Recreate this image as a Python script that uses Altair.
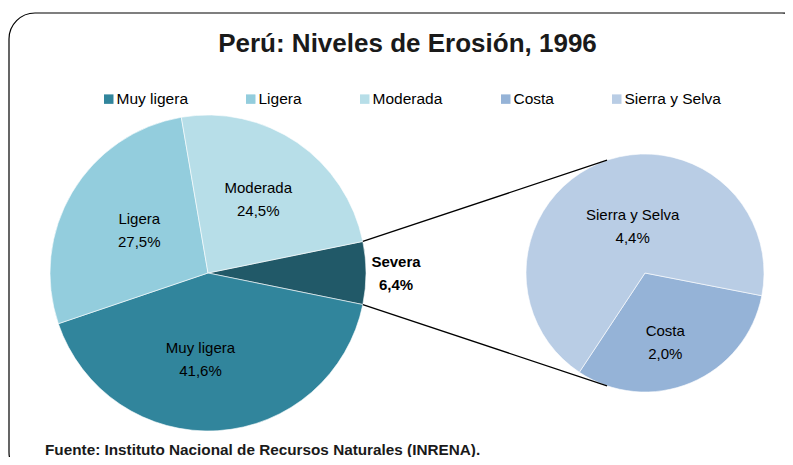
import math
import altair as alt
import pandas as pd

# ---------------- data ----------------
main_cats = ["Severa", "Muy ligera", "Ligera", "Moderada"]
main_vals = [6.4, 41.6, 27.5, 24.5]
sub_cats = ["Costa", "Sierra y Selva"]
sub_vals = [2.0, 4.4]
legend_cats = ["Muy ligera", "Ligera", "Moderada", "Costa", "Sierra y Selva"]
all_cats = legend_cats + ["Severa"]
cat_colors = ["#31859C", "#93CDDD", "#B7DEE8", "#95B3D7", "#B9CDE5", "#215968"]
title_text = "Perú: Niveles de Erosión, 1996"
source_text = "Fuente: Instituto Nacional de Recursos Naturales (INRENA)."

# ---------------- layout (style) ----------------
W, H = 777, 449
FONT = "'Liberation Sans Narrow', 'Liberation Sans', Arial, sans-serif"
C1X, C1Y, R1 = 200, 265, 158
C2X, C2Y, R2 = 637, 265, 119
SUB_START_DEG = 101.0
SUB_HIT_DEG = 18.6  # where connector lines meet the secondary pie
LINE_H = 23
# per-label placement: (radius, dx, dy, bold)
LABEL_POS = {
    "Moderada": (89, 0, 0, False),
    "Ligera": (80, 0, -2, False),
    "Muy ligera": (87, -13, 0, False),
    "Severa": (188, 0, 0, True),
    "Sierra y Selva": (50, 7, 0, False),
    "Costa": (73, -8, 2, False),
}


def fmt(v):
    return f"{v:.1f}".replace(".", ",") + "%"


total1 = sum(main_vals)
total2 = sum(sub_vals)
sev_share = main_vals[main_cats.index("Severa")] / total1
start1 = math.radians(90 - sev_share * 360 / 2)
start2 = math.radians(SUB_START_DEG)

df_main = pd.DataFrame({
    "cat": main_cats,
    "value": main_vals,
    "ord": list(range(len(main_cats))),
    "text": [f"{c}\n{fmt(v)}" for c, v in zip(main_cats, main_vals)],
})
df_sub = pd.DataFrame({
    "cat": sub_cats,
    "value": sub_vals,
    "ord": list(range(len(sub_cats))),
    "text": [f"{c}\n{fmt(v)}" for c, v in zip(sub_cats, sub_vals)],
})

color_scale = alt.Scale(domain=all_cats, range=cat_colors)
legend = alt.Legend(
    title=None, values=legend_cats, orient="none", legendX=93, legendY=83,
    direction="horizontal", symbolType="square", symbolSize=90,
    symbolStrokeWidth=0, labelFont=FONT, labelFontSize=15.5, labelColor="#000000",
    labelOffset=0, columnPadding=55,
)


def pie(df, total, start, cx, cy, r, with_legend):
    theta_scale = alt.Scale(domain=[0, total], range=[start, start + 2 * math.pi])
    return alt.Chart(df).mark_arc(stroke="#ffffff", strokeWidth=0.6).encode(
        theta=alt.Theta("value:Q", stack=True, scale=theta_scale),
        order=alt.Order("ord:Q"),
        color=alt.Color("cat:N", scale=color_scale,
                        legend=legend if with_legend else None),
        x=alt.value(cx), y=alt.value(cy), radius=alt.value(r),
    )


def label(df, total, start, cx, cy, cat):
    radius, dx, dy, bold = LABEL_POS[cat]
    theta_scale = alt.Scale(domain=[0, total], range=[start, start + 2 * math.pi])
    return alt.Chart(df).transform_window(
        cum="sum(value)", sort=[alt.SortField("ord")], frame=[None, 0]
    ).transform_calculate(
        mid="datum.cum - datum.value / 2"
    ).transform_filter(alt.datum.cat == cat).mark_text(
        font=FONT, fontSize=15, lineBreak="\n", align="center", baseline="middle",
        color="#000000", fontWeight="bold" if bold else "normal", lineHeight=LINE_H,
        dx=dx, dy=dy - LINE_H / 2,
    ).encode(
        theta=alt.Theta("mid:Q", stack=False, scale=theta_scale),
        radius=alt.value(radius),
        x=alt.value(cx), y=alt.value(cy),
        text="text:N",
    )


pie1 = pie(df_main, total1, start1, C1X, C1Y, R1, True)
pie2 = pie(df_sub, total2, start2, C2X, C2Y, R2, False)
labs = [label(df_main, total1, start1, C1X, C1Y, c) for c in main_cats]
labs += [label(df_sub, total2, start2, C2X, C2Y, c) for c in sub_cats]

# connector lines (computed from the Severa slice geometry)
a_up = start1
a_dn = start1 + sev_share * 2 * math.pi
b_up = math.radians(360 - SUB_HIT_DEG)
b_dn = math.radians(180 + SUB_HIT_DEG)
conn = pd.DataFrame({
    "x": [C1X + R1 * math.sin(a_up), C1X + R1 * math.sin(a_dn)],
    "y": [C1Y - R1 * math.cos(a_up), C1Y - R1 * math.cos(a_dn)],
    "x2": [C2X + R2 * math.sin(b_up), C2X + R2 * math.sin(b_dn)],
    "y2": [C2Y - R2 * math.cos(b_up), C2Y - R2 * math.cos(b_dn)],
})
lines = alt.Chart(conn).mark_rule(color="#000000", strokeWidth=1.3).encode(
    x=alt.X("x:Q", scale=None), y=alt.Y("y:Q", scale=None),
    x2="x2:Q", y2="y2:Q",
)

title = alt.Chart(pd.DataFrame({"t": [title_text]})).mark_text(
    font=FONT, fontSize=26, fontWeight="bold", align="center", baseline="alphabetic",
    color="#1a1a1a",
).encode(x=alt.value(399.5), y=alt.value(44), text="t:N")

source = alt.Chart(pd.DataFrame({"t": [source_text]})).mark_text(
    font=FONT, fontSize=15.3, fontWeight="bold", align="left", baseline="alphabetic",
    color="#1a1a1a",
).encode(x=alt.value(37), y=alt.value(447), text="t:N")

border = alt.Chart(pd.DataFrame({"a": [0]})).mark_rect(
    fillOpacity=0, fill="#ffffff", stroke="#000000", strokeWidth=1.2, cornerRadius=26,
).encode(x=alt.value(1), x2=alt.value(800), y=alt.value(5), y2=alt.value(470))

chart = alt.layer(
    border, pie1, pie2, lines, *labs, title, source
).resolve_scale(theta="independent").properties(
    width=W, height=H, padding=0, autosize=alt.AutoSizeParams(type="none"),
    background="#ffffff",
).configure_view(strokeWidth=0)

chart.save("out.html", embed_options={"renderer": "svg", "actions": False})
